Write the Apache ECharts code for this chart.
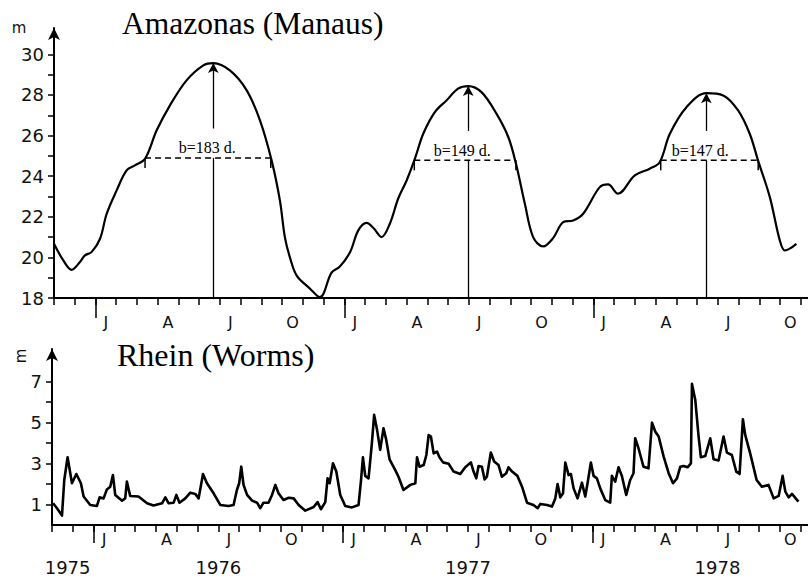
<!DOCTYPE html>
<html><head><meta charset="utf-8">
<script src="https://cdn.jsdelivr.net/npm/echarts@6/dist/echarts.min.js"></script>
<style>html,body{margin:0;padding:0;background:#fff}#chart{width:808px;height:581px}</style>
</head><body><div id="chart"></div>
<script>
// x values are months counted from 1 Nov 1975
const amazonMonth = [0,0.45,0.85,1.25,1.49,1.81,2.22,2.54,3.02,3.5,3.9,4.39,4.95,5.59,6.39,7.2,7.68,8.48,9.29,9.93,10.49,10.89,11.13,11.37,11.7,12.3,12.82,13.38,13.78,14.27,14.67,15.07,15.4,15.79,16.19,16.59,17.0,17.4,17.8,18.36,18.92,19.48,19.97,20.61,21.33,21.9,22.27,22.7,23.1,23.58,24.06,24.55,25.03,25.51,26.31,26.71,27.19,28.0,28.72,29.2,29.69,30.49,31.45,32.26,32.98,33.54,33.94,34.51,34.99,35.23,35.47,35.79];
const amazonStage = [20.67,19.85,19.39,19.77,20.1,20.26,20.92,22.15,23.3,24.29,24.53,24.86,26.26,27.49,28.72,29.46,29.57,29.21,28.23,26.75,24.78,22.81,21.0,20.01,19.1,18.5,18.04,19.25,19.55,20.25,21.33,21.7,21.45,21.0,21.66,22.89,23.79,24.86,26.09,27.16,27.73,28.31,28.44,28.14,27.08,25.93,24.62,22.64,21.0,20.54,20.95,21.74,21.82,22.15,23.46,23.6,23.14,24.04,24.37,24.69,26.09,27.4,28.09,27.98,27.24,26.09,24.78,22.97,20.84,20.34,20.43,20.67];

const rheinMonth = [0.05,0.24,0.48,0.59,0.75,0.96,1.17,1.39,1.52,1.84,2.16,2.29,2.48,2.64,2.8,2.93,3.04,3.37,3.52,3.6,3.76,4.16,4.57,4.88,5.29,5.45,5.61,5.85,5.98,6.13,6.41,6.65,6.89,7.05,7.26,7.45,7.77,8.09,8.49,8.73,8.89,9.0,9.1,9.21,9.38,9.62,9.86,10.01,10.17,10.41,10.58,10.74,10.89,11.13,11.38,11.62,11.86,12.18,12.4,12.58,12.77,12.93,13.14,13.25,13.35,13.51,13.67,13.86,14.1,14.42,14.74,14.86,14.95,15.06,15.22,15.38,15.49,15.63,15.78,15.94,16.07,16.23,16.5,16.66,16.9,17.23,17.47,17.55,17.67,17.87,18.0,18.11,18.22,18.35,18.51,18.63,18.8,19.07,19.31,19.63,19.87,20.14,20.27,20.4,20.51,20.67,20.8,20.91,21.1,21.26,21.47,21.63,21.84,21.95,22.12,22.38,22.6,22.84,23.15,23.35,23.48,23.8,24.04,24.2,24.31,24.44,24.57,24.68,24.84,24.95,25.08,25.27,25.48,25.64,25.75,25.91,26.04,26.2,26.36,26.6,26.84,26.92,27.08,27.24,27.4,27.61,27.8,27.96,28.04,28.2,28.44,28.68,28.85,29.01,29.17,29.41,29.65,29.86,30.05,30.21,30.37,30.56,30.72,30.77,30.93,31.09,31.2,31.41,31.65,31.81,32.05,32.29,32.45,32.69,32.9,33.06,33.22,33.33,33.57,33.88,34.13,34.45,34.7,34.94,35.13,35.26,35.42,35.58,35.89];
const rheinStage = [1.06,0.82,0.46,2.2,3.31,2.04,2.49,2.04,1.39,0.98,0.93,1.35,1.3,1.74,1.87,2.44,1.47,1.19,1.3,2.12,1.42,1.39,1.06,0.95,1.06,1.35,1.06,1.09,1.47,1.09,1.3,1.58,1.52,1.3,2.49,2.04,1.55,0.98,0.93,0.98,1.71,2.04,2.85,1.96,1.47,1.19,1.09,0.82,1.09,1.09,1.47,1.96,1.55,1.22,1.33,1.3,0.98,0.7,0.8,0.88,1.12,0.77,1.12,2.28,2.04,3.02,2.61,1.47,0.93,0.86,0.98,2.2,3.31,2.4,2.28,3.99,5.38,4.65,3.67,4.73,4.16,3.21,2.69,2.36,1.71,1.96,2.04,3.31,2.85,2.93,3.42,4.4,4.32,3.5,3.59,3.31,3.06,2.99,2.61,2.49,2.82,3.06,2.61,2.28,2.88,2.85,2.23,2.36,3.54,3.1,2.93,2.36,2.53,2.82,2.61,2.4,1.87,1.09,0.98,0.82,1.03,0.98,0.9,1.3,2.0,1.35,1.55,3.05,2.44,2.49,1.79,1.3,2.07,1.39,2.04,3.05,2.4,2.28,1.79,1.22,1.09,2.4,2.12,2.82,2.4,1.47,2.2,2.53,4.24,3.75,2.85,2.77,5.0,4.56,4.32,3.34,2.53,2.04,2.28,2.85,2.88,2.82,3.01,6.9,6.11,4.32,3.31,3.37,4.24,3.21,3.15,4.32,3.54,3.42,2.61,2.49,5.17,4.4,3.5,2.2,1.87,1.96,1.3,1.42,2.4,1.63,1.35,1.52,1.14];

const monthTicks = Array.from({length: 37}, (_, i) => i);
const monthLabelPos = [2.5,5.5,8.5,11.5,14.5,17.5,20.5,23.5,26.5,29.5,32.5,35.5];
const monthLabelText = ['J','A','J','O','J','A','J','O','J','A','J','O'];
const januaryTicks = [2,14,26];
const yearLabelPos = [0.75,8,20,32];
const yearLabelText = ['1975','1976','1977','1978'];

const amazonTicks = [18,19,20,21,22,23,24,25,26,27,28,29,30];
const amazonLabels = [18,20,22,24,26,28,30];
const rheinTicks = [1,2,3,4,5,6,7];
const rheinLabels = [1,3,5,7];

const bText = ['b=183 d.','b=149 d.','b=147 d.'];
const bPeakMonth = [7.68,19.97,31.45];
const bPeakStage = [29.57,28.44,28.09];
const bStartMonth = [4.39,17.37,29.25];
const bEndMonth = [10.45,22.27,33.95];
const bLevel = [24.9,24.78,24.78];

const X_MAX = 36.35;
const labelMap = {};
monthLabelPos.forEach((p, i) => labelMap[p.toFixed(2)] = monthLabelText[i]);
const yearMap = {};
yearLabelPos.forEach((p, i) => yearMap[p.toFixed(2)] = yearLabelText[i]);

const sans = 'DejaVu Sans';
const serif = 'Liberation Serif';

function monthAxis(gridIndex, margin) {
  return {
    type: 'value', gridIndex, min: 0, max: X_MAX, position: 'bottom',
    axisLine: {show: true, onZero: false, lineStyle: {color: '#000', width: 2}},
    axisTick: {show: true, customValues: monthTicks, length: 7, lineStyle: {color: '#000', width: 1.5}},
    axisLabel: {show: true, customValues: monthLabelPos, margin, fontFamily: sans, fontSize: 16, color: '#111',
      formatter: v => labelMap[(+v).toFixed(2)] || ''},
    splitLine: {show: false}
  };
}
function janAxis(gridIndex, len, withYears) {
  return {
    type: 'value', gridIndex, min: 0, max: X_MAX, position: 'bottom',
    axisLine: {show: false, onZero: false},
    axisTick: {show: true, customValues: januaryTicks, length: len, lineStyle: {color: '#000', width: 1.5}},
    axisLabel: withYears ? {show: true, customValues: yearLabelPos, margin: 33, fontFamily: sans, fontSize: 18, color: '#111',
      formatter: v => yearMap[(+v).toFixed(2)] || ''} : {show: false},
    splitLine: {show: false}
  };
}
function stageAxis(gridIndex, min, max, ticks, labels) {
  return {
    type: 'value', gridIndex, min, max,
    axisLine: {show: true, onZero: false, symbol: ['none', 'arrow'], symbolSize: [9, 12], lineStyle: {color: '#000', width: 2}},
    axisTick: {show: true, customValues: ticks, length: 6, lineStyle: {color: '#000', width: 1.5}},
    axisLabel: {show: true, customValues: labels, margin: 10, fontFamily: sans, fontSize: 18, color: '#111'},
    splitLine: {show: false}
  };
}
function hiddenY(gridIndex, min, max) {
  return {type: 'value', gridIndex, min, max, show: false, splitLine: {show: false}};
}

const topGrid = {left: 54, right: 0, top: 28, bottom: 283};
const botGrid = {left: 52, right: 0, top: 349, bottom: 56};

const series = [];
series.push({
  type: 'line', name: 'Amazonas', xAxisIndex: 0, yAxisIndex: 0,
  data: amazonMonth.map((m, i) => [m, amazonStage[i]]),
  smooth: 0.35, showSymbol: false, lineStyle: {color: '#000', width: 2.2}
});
const markData = [];
bText.forEach((t, i) => {
  series.push({
    type: 'line', xAxisIndex: 0, yAxisIndex: 0,
    data: [[bStartMonth[i], bLevel[i]], [bEndMonth[i], bLevel[i]]],
    symbol: 'rect', symbolSize: [1.5, 10], symbolOffset: [0, 5], showSymbol: true,
    itemStyle: {color: '#000'},
    lineStyle: {color: '#000', width: 1.5, type: [6, 4]}
  });
  markData.push([{coord: [bPeakMonth[i], 18], symbol: 'none'}, {coord: [bPeakMonth[i], bLevel[i]], symbol: 'none'}]);
  markData.push([{coord: [bPeakMonth[i], bLevel[i] + 1.45], symbol: 'none'}, {coord: [bPeakMonth[i], bPeakStage[i]], symbol: 'arrow'}]);
});
series.push({
  type: 'scatter', xAxisIndex: 0, yAxisIndex: 0,
  data: bPeakMonth.map((m, i) => [m, bLevel[i] + 0.5]),
  symbolSize: 2, itemStyle: {color: 'rgba(255,255,255,0)'},
  label: {show: true, position: 'inside', offset: [-6, 0], formatter: p => bText[p.dataIndex],
    fontFamily: serif, fontSize: 16, color: '#000', opacity: 1},
  emphasis: {disabled: true},
  markLine: {silent: true, symbolSize: [8, 10], label: {show: false},
    lineStyle: {color: '#000', width: 1.3, type: 'solid'}, data: markData}
});
series.push({
  type: 'line', name: 'Rhein', xAxisIndex: 2, yAxisIndex: 2,
  data: rheinMonth.map((m, i) => [m, rheinStage[i]]),
  showSymbol: false, lineStyle: {color: '#000', width: 2.6, join: 'round'}
});

const option = {
  animation: false,
  backgroundColor: '#fff',
  grid: [topGrid, Object.assign({}, topGrid), botGrid, Object.assign({}, botGrid)],
  xAxis: [monthAxis(0, 16), janAxis(1, 20, false), monthAxis(2, 6), janAxis(3, 18, true)],
  yAxis: [stageAxis(0, 18, 31.3, amazonTicks, amazonLabels), hiddenY(1, 18, 31.3),
          stageAxis(2, 0, 8.6, rheinTicks, rheinLabels), hiddenY(3, 0, 8.6)],
  graphic: [
    {type: 'text', x: 122, y: 23, style: {text: 'Amazonas (Manaus)', fontFamily: serif, fontSize: 31.5, fill: '#000', verticalAlign: 'middle'}},
    {type: 'text', x: 117, y: 355, style: {text: 'Rhein (Worms)', fontFamily: serif, fontSize: 32, fill: '#000', verticalAlign: 'middle'}},
    {type: 'text', x: 19, y: 28, style: {text: 'm', fontFamily: sans, fontSize: 15, fill: '#111', align: 'center', verticalAlign: 'middle'}},
    {type: 'text', x: 21, y: 356, rotation: Math.PI / 2, style: {text: 'm', fontFamily: sans, fontSize: 15, fill: '#111', align: 'center', verticalAlign: 'middle'}}
  ],
  series
};
const chart = echarts.init(document.getElementById('chart'), null, {renderer: 'svg'});
chart.setOption(option);
</script></body></html>
